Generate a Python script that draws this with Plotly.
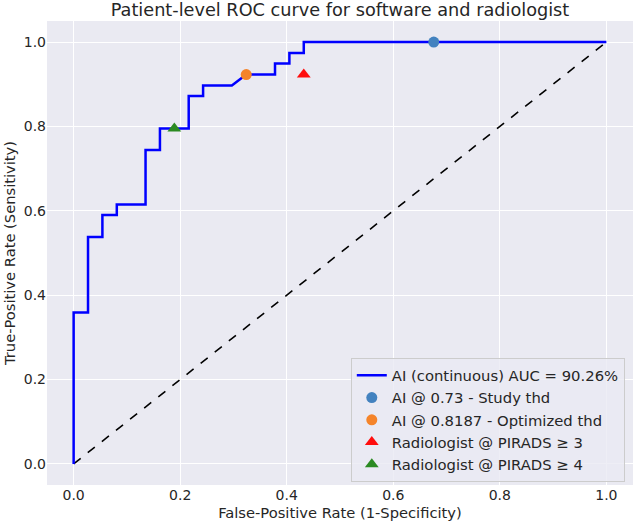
import plotly.graph_objects as go

# ROC curve (step points)
roc_fpr = [0.0, 0.0, 0.027, 0.027, 0.054, 0.054, 0.081, 0.081, 0.135, 0.135,
           0.162, 0.162, 0.216, 0.216, 0.243, 0.243, 0.297, 0.324, 0.378, 0.378,
           0.405, 0.405, 0.432, 0.432, 1.0]
roc_tpr = [0.0, 0.359, 0.359, 0.538, 0.538, 0.590, 0.590, 0.615, 0.615, 0.744,
           0.744, 0.795, 0.795, 0.872, 0.872, 0.897, 0.897, 0.923, 0.923, 0.949,
           0.949, 0.974, 0.974, 1.0, 1.0]

# Operating points
pt_names = ["AI @ 0.73 - Study thd", "AI @ 0.8187 - Optimized thd",
            "Radiologist @ PIRADS ≥ 3", "Radiologist @ PIRADS ≥ 4"]
pt_fpr = [0.676, 0.324, 0.432, 0.189]
pt_tpr = [1.0, 0.923, 0.923, 0.795]
pt_symbols = ["circle", "circle", "triangle-up", "triangle-up"]
pt_colors = ["#4382bf", "#f5842a", "#ff0d0d", "#2b8a22"]

diag = [0.0, 1.0]
ticks = [0.0, 0.2, 0.4, 0.6, 0.8, 1.0]

TXT = "#262626"
FONT = "DejaVu Sans"

fig = go.Figure()
fig.add_trace(go.Scatter(x=diag, y=diag, mode="lines", showlegend=False,
                         line=dict(color="black", width=1.6, dash="dash")))
fig.add_trace(go.Scatter(x=roc_fpr, y=roc_tpr, mode="lines",
                         name="AI (continuous) AUC = 90.26%",
                         line=dict(color="#0000ff", width=2.5)))
for n, x, y, s, c in zip(pt_names, pt_fpr, pt_tpr, pt_symbols, pt_colors):
    fig.add_trace(go.Scatter(x=[x], y=[y], mode="markers", name=n,
                             marker=dict(symbol=s, color=c, size=11 if s == "circle" else 12,
                                         line=dict(width=0))))

axis_common = dict(range=[-0.05, 1.05], tickvals=ticks, tickformat=".1f",
                   showgrid=True, gridcolor="white", gridwidth=1,
                   zeroline=False, showline=False, ticks="",
                   tickfont=dict(family=FONT, size=14, color=TXT),
                   automargin=False)

fig.update_layout(
    width=633, height=523,
    margin=dict(l=47, r=0, t=21, b=38),
    paper_bgcolor="white", plot_bgcolor="#eaeaf2",
    font=dict(family=FONT, color=TXT),
    title=dict(text="Patient-level ROC curve for software and radiologist",
               font=dict(family=FONT, size=17.7, color=TXT),
               x=0.5, xref="paper", xanchor="center",
               y=1 - 10 / 523, yref="container", yanchor="middle"),
    xaxis=dict(title=dict(text="False-Positive Rate (1-Specificity)",
                          font=dict(family=FONT, size=14.7, color=TXT), standoff=5),
               **axis_common),
    yaxis=dict(title=dict(text="True-Positive Rate (Sensitivity)",
                          font=dict(family=FONT, size=14.7, color=TXT), standoff=4),
               **axis_common),
    legend=dict(x=0.986, xanchor="right", y=0.006, yanchor="bottom",
                bgcolor="rgba(234,234,242,0.8)", bordercolor="#cccccc", borderwidth=1,
                font=dict(family=FONT, size=14.8, color=TXT)),
)

fig.write_html("out.html")
